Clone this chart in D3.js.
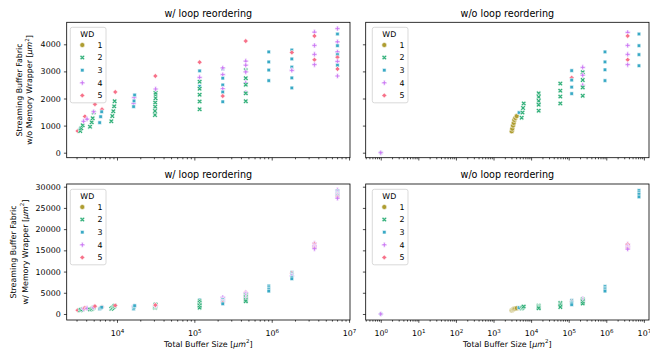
<!DOCTYPE html>
<html><head><meta charset="utf-8">
<script src="https://cdn.jsdelivr.net/npm/d3@7"></script>
<style>body{margin:0;background:#fff} text{font-family:"DejaVu Sans",sans-serif;fill:#000}</style>
</head><body><svg id="c" width="650" height="352"></svg>
<script>
// ---------------- data ----------------
const wdLevels = [1, 2, 3, 4, 5];
const wdColors = ["#ae9d31", "#33b07a", "#38a9c5", "#cc7af4", "#f77189"];
const wdMarkers = ["circle", "x", "square", "plus", "diamond"];

const titles = ["w/ loop reordering", "w/o loop reordering"];
const yLabelTop = ["Streaming Buffer Fabric", "w/o Memory Wrapper"];
const yLabelBottom = ["Streaming Buffer Fabric", "w/ Memory Wrapper"];
const xLabel = "Total Buffer Size";
const yTicksTop = [0, 1000, 2000, 3000, 4000];
const yTicksBottom = [0, 5000, 10000, 15000, 20000, 25000, 30000];
const xTicksLeft = [1e4, 1e5, 1e6, 1e7];
const xTicksRight = [1e0, 1e1, 1e2, 1e3, 1e4, 1e5, 1e6, 1e7];

// w/ loop reordering: buffer size, WD, area w/o wrapper, area w/ wrapper
const reoX = [3100,3350,3350,3450,3600,3700,3850,4100,
  4480,4710,4850,5000,5000,5190,
  6400,5970,6150,6340,
  8440,8700,8960,9200,9330,9500,
  16400,16700,16400,16600,16900,
  31000,31000,31200,31200,31500,31500,31500,31600,31300,
  117000,117000,117000,117000,117000,117000,117000,117000,117000,
  233000,233000,233000,233000,233000,233000,233000,233000,233000,
  462000,462000,462000,462000,462000,462000,462000,462000,462000,462000,462000,
  916000,916000,916000,916000,
  1820000,1820000,1820000,1820000,1820000,1820000,1820000,
  3570000,3570000,3570000,3570000,3570000,3570000,
  7080000,7080000,7080000,7080000,7080000,7080000,7080000,7080000,7080000,7080000,7080000];
const reoWD = [5,3,2,2,2,4,5,4,
  2,2,2,2,4,5,
  5,3,3,3,
  2,2,2,2,2,5,
  4,4,3,3,3,
  2,2,2,2,2,2,2,4,5,
  5,3,4,2,3,2,2,2,2,
  3,4,4,3,3,4,3,5,3,
  5,4,4,2,4,2,4,2,4,2,2,
  3,3,3,3,
  3,5,3,3,4,3,3,
  4,5,4,4,5,4,
  4,3,4,3,4,3,5,4,3,5,4];
const reoTopY = [800,870,800,900,1010,1160,1340,1240,
  960,1120,1270,1480,1510,1790,
  1600,1110,1330,1510,
  1160,1350,1530,1710,1900,2240,
  1820,2030,1700,1910,2130,
  1390,1540,1700,1850,2010,2140,2210,2350,2830,
  3340,3020,2780,2620,2450,2360,2140,1890,1600,
  3090,3130,2880,2750,2500,2360,2240,2090,1880,
  4120,3380,3230,3040,2980,2750,2580,2510,2220,2190,1900,
  3720,3350,3050,2660,
  3790,3700,3460,3160,3040,2760,2390,
  4450,4310,3960,3630,3430,3250,
  4580,4380,4090,3950,3720,3620,3520,3370,3230,3090,2830];
const reoBotY = [880,960,900,1000,1100,1250,1400,1330,
  1050,1200,1350,1550,1600,1850,
  1650,1200,1400,1580,
  1220,1420,1600,1780,1960,2000,
  1750,1850,1200,1600,1960,
  1450,1600,1750,1900,2050,2150,2250,2000,2100,
  2600,3300,2700,3000,2400,2600,2200,1900,1500,
  3700,3900,3400,3350,3000,2900,2800,2600,2400,
  5100,5000,4700,4400,4300,4000,3800,3700,3400,3300,3000,
  6600,6200,5800,5400,
  9800,9600,9400,9100,8950,8650,8300,
  16700,16500,16150,15800,15600,15400,
  29200,29000,28700,28500,28300,28200,28100,27900,27800,27600,27300];

// w/o loop reordering
const noreoX = [1,1,
  3050,3160,3300,3440,3570,3800,4140,
  4770,
  5600,5900,6100,6350,
  15900,15900,15900,15900,15900,15900,
  59800,59800,59800,59800,
  120000,120000,120000,120000,120000,
  236000,236000,236000,236000,236000,236000,236000,
  923000,923000,923000,923000,
  3710000,3710000,3710000,3710000,3710000,3710000,
  7400000,7400000,7400000,7400000];
const noreoWD = [3,4,
  1,1,1,1,1,1,1,
  3,
  2,2,2,2,
  3,2,2,2,2,2,
  2,2,2,2,
  3,5,3,3,3,
  4,2,4,2,4,2,2,
  3,3,3,3,
  4,5,4,4,5,4,
  3,3,3,3];
const noreoTopY = [0,0,
  790,885,1000,1100,1210,1280,1350,
  1480,
  1290,1480,1650,1820,
  1790,2190,2055,1910,1770,1550,
  2550,2290,2070,1820,
  3030,2770,2680,2420,2180,
  3150,2970,2860,2680,2490,2410,2100,
  3720,3350,3060,2660,
  4440,4310,3960,3630,3430,3250,
  4380,3950,3620,3210];
const noreoBotY = [0,0,
  880,950,1050,1150,1230,1300,1380,
  1500,
  1300,1450,1600,1750,
  1500,2000,1850,1700,1550,1350,
  2600,2300,2000,1650,
  3200,2900,2800,2500,2200,
  3600,3450,3300,3100,2900,2800,2450,
  6500,6100,5750,5400,
  16500,16400,16000,15700,15500,15300,
  29100,28600,28200,27600];

// ---------------- drawing ----------------
const FS = 7.9;
const svg = d3.select("#c");

const colLeft = {x0: 66.7, x1: 350, dom: [Math.pow(10, 3.35), Math.pow(10, 7.012)], ticks: xTicksLeft};
const colRight = {x0: 365.7, x1: 649, dom: [Math.pow(10, -0.40), Math.pow(10, 7.136)], ticks: xTicksRight};
const rowTop = {y0: 22.3, y1: 157.7, dom: [-184.5, 4812], ticks: yTicksTop, titleY: 17.3, label: yLabelTop, labelX: [22, 32]};
const rowBot = {y0: 184, y1: 320, dom: [-1415, 30637], ticks: yTicksBottom, titleY: 178, label: yLabelBottom, labelX: [16.3, 27.8]};

const panels = [
  {col: colLeft, row: rowTop, xs: reoX, ys: reoTopY, wd: reoWD, title: titles[0], yLab: true, xLab: false, leg: [70.3, 27.3]},
  {col: colRight, row: rowTop, xs: noreoX, ys: noreoTopY, wd: noreoWD, title: titles[1], yLab: false, xLab: false, leg: [372.3, 27.3]},
  {col: colLeft, row: rowBot, xs: reoX, ys: reoBotY, wd: reoWD, title: titles[0], yLab: true, xLab: true, leg: [70.3, 189.3]},
  {col: colRight, row: rowBot, xs: noreoX, ys: noreoBotY, wd: noreoWD, title: titles[1], yLab: false, xLab: true, leg: [372.3, 189.3]},
];

const R = 2.5;
function markerPath(type) {
  const p = d3.path();
  const poly = (pts, s) => { pts.forEach((v, i) => i ? p.lineTo(v[0]*s, v[1]*s) : p.moveTo(v[0]*s, v[1]*s)); p.closePath(); };
  if (type === "circle") { p.moveTo(R, 0); p.arc(0, 0, R, 0, 2*Math.PI); }
  else if (type === "square") { const h = R/Math.SQRT2; poly([[-1,-1],[1,-1],[1,1],[-1,1]], h); }
  else if (type === "diamond") { poly([[0,-1],[1,0],[0,1],[-1,0]], R); }
  else if (type === "x") { poly([[-1,-2],[0,-1],[1,-2],[2,-1],[1,0],[2,1],[1,2],[0,1],[-1,2],[-2,1],[-1,0],[-2,-1]], R/2); }
  else if (type === "plus") { poly([[-1,-3],[1,-3],[1,-1],[3,-1],[3,1],[1,1],[1,3],[-1,3],[-1,1],[-3,1],[-3,-1],[-1,-1]], R/3); }
  return p.toString();
}
const color = d3.scaleOrdinal().domain(wdLevels).range(wdColors);
const shape = d3.scaleOrdinal().domain(wdLevels).range(wdMarkers);

function supText(sel, base, exp) {
  sel.append("tspan").text(base);
  sel.append("tspan").attr("font-size", FS*0.7).attr("dy", -3.4).text(exp);
}

function unitLabel(sel, prefix) {
  sel.append("tspan").text(prefix + " [");
  sel.append("tspan").attr("font-style", "italic").text("\u03bcm");
  sel.append("tspan").attr("font-size", FS*0.7).attr("dy", -3.4).text("2");
  sel.append("tspan").attr("dy", 3.4).text("]");
}

panels.forEach(P => {
  const x = d3.scaleLog().domain(P.col.dom).range([P.col.x0, P.col.x1]);
  const y = d3.scaleLinear().domain(P.row.dom).range([P.row.y1, P.row.y0]);
  const g = svg.append("g");

  // points
  const idx = d3.range(P.xs.length);
  g.append("g").selectAll("path").data(idx).join("path")
    .attr("d", i => markerPath(shape(P.wd[i])))
    .attr("transform", i => `translate(${x(P.xs[i])},${y(P.ys[i])})`)
    .attr("fill", i => color(P.wd[i]))
    .attr("stroke", "#fff").attr("stroke-width", 0.6);

  // x axis ticks
  const xa = g.append("g").attr("transform", `translate(0,${P.row.y1})`);
  xa.call(d3.axisBottom(x).tickValues(P.col.ticks).tickSize(2.8).tickFormat(() => ""));
  xa.select(".domain").remove();
  const [lo, hi] = x.domain();
  const minors = [];
  for (let e = Math.floor(Math.log10(lo)); e <= Math.ceil(Math.log10(hi)); e++)
    for (let k = 2; k <= 9; k++) { const v = k*Math.pow(10, e); if (v >= lo && v <= hi) minors.push(v); }
  const xm = g.append("g").attr("transform", `translate(0,${P.row.y1})`);
  xm.call(d3.axisBottom(x).tickValues(minors).tickSize(1.6).tickFormat(() => ""));
  xm.select(".domain").remove();
  g.selectAll(".tick line").attr("stroke", "#000").attr("stroke-width", 0.7);
  if (P.xLab) {
    xa.selectAll(".tick text").each(function(d) {
      const t = d3.select(this).attr("y", 16).attr("dy", null)
        .attr("font-size", FS).attr("font-family", "DejaVu Sans").attr("fill", "#000");
      t.text(null);
      supText(t, "10", String(Math.round(Math.log10(d))));
    });
    g.append("text").attr("x", (P.col.x0 + P.col.x1)/2).attr("y", 346.5)
      .attr("text-anchor", "middle").attr("font-size", FS).call(s => unitLabel(s, xLabel));
  }

  // y axis ticks
  const ya = g.append("g").attr("transform", `translate(${P.col.x0},0)`);
  ya.call(d3.axisLeft(y).tickValues(P.row.ticks).tickSize(2.8).tickPadding(3.2)
    .tickFormat(d => P.yLab ? String(d) : ""));
  ya.select(".domain").remove();
  ya.selectAll(".tick line").attr("stroke", "#000").attr("stroke-width", 0.7);
  ya.selectAll(".tick text").attr("font-size", FS).attr("font-family", "DejaVu Sans").attr("fill", "#000");
  if (P.yLab) {
    const cy = (P.row.y0 + P.row.y1)/2;
    P.row.label.forEach((line, li) => {
      const t = g.append("text")
        .attr("transform", `translate(${P.row.labelX[li]},${cy}) rotate(-90)`)
        .attr("text-anchor", "middle").attr("font-size", FS);
      if (li === 0) t.text(line); else t.call(s => unitLabel(s, line));
    });
  }

  // spines
  g.append("rect").attr("x", P.col.x0).attr("y", P.row.y0)
    .attr("width", P.col.x1 - P.col.x0).attr("height", P.row.y1 - P.row.y0)
    .attr("fill", "none").attr("stroke", "#000").attr("stroke-width", 0.8);

  // title
  g.append("text").attr("x", (P.col.x0 + P.col.x1)/2).attr("y", P.row.titleY)
    .attr("text-anchor", "middle").attr("font-size", 9.6).text(P.title);

  // legend
  const [lx, ly] = P.leg;
  const lg = g.append("g").attr("transform", `translate(${lx},${ly})`);
  lg.append("rect").attr("width", 35.7).attr("height", 75.5).attr("rx", 2)
    .attr("fill", "#fff").attr("fill-opacity", 0.8).attr("stroke", "#d0d0d0").attr("stroke-width", 0.8);
  lg.append("text").attr("x", 17).attr("y", 9.6).attr("text-anchor", "middle").attr("font-size", FS).text("WD");
  wdLevels.forEach((w, i) => {
    const yy = 17.7 + i*12.6;
    lg.append("path").attr("d", markerPath(shape(w))).attr("transform", `translate(12,${yy})`)
      .attr("fill", color(w)).attr("stroke", "#fff").attr("stroke-width", 0.6);
    lg.append("text").attr("x", 29.6).attr("y", yy + 2.9).attr("text-anchor", "middle")
      .attr("font-size", FS).text(String(w));
  });
});
</script>
</body></html>
